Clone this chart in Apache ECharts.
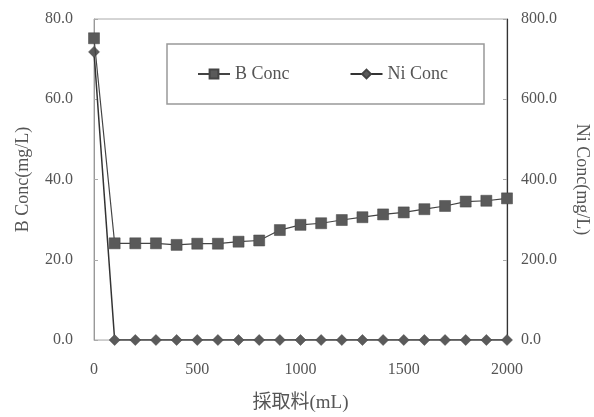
<!DOCTYPE html>
<html>
<head>
<meta charset="utf-8">
<script src="https://cdn.jsdelivr.net/npm/echarts@6/dist/echarts.min.js"></script>
<style>
  html, body { margin: 0; padding: 0; background: #fff; }
  #chart { width: 594px; height: 417px; }
</style>
</head>
<body>
<div id="chart"></div>
<script>
const volumes = [0, 100, 200, 300, 400, 500, 600, 700, 800, 900, 1000,
  1100, 1200, 1300, 1400, 1500, 1600, 1700, 1800, 1900, 2000]
const bConc = [75.2, 24.1, 24.1, 24.1, 23.7, 24.0, 24.0, 24.5, 24.8, 27.4, 28.7,
  29.1, 29.9, 30.6, 31.3, 31.8, 32.6, 33.4, 34.5, 34.7, 35.3]
const niConc = [718, 0, 0, 0, 0, 0, 0, 0, 0, 0, 0,
  0, 0, 0, 0, 0, 0, 0, 0, 0, 0]

const font = "'Liberation Serif', 'Noto Sans CJK JP', serif"
const textColor = '#555'

const chart = echarts.init(document.getElementById('chart'))

chart.setOption({
  backgroundColor: '#fff',
  textStyle: { fontFamily: font, color: textColor },
  grid: {
    left: 94, right: 87, top: 19, bottom: 77,
    outerBoundsMode: 'none',
    containLabel: false,
    show: true, borderColor: '#aaa', borderWidth: 1
  },
  legend: {
    left: 167, top: 44,
    padding: [21, 36, 21, 30],
    itemGap: 60,
    itemWidth: 32,
    itemHeight: 11,
    borderColor: '#999',
    borderWidth: 1.5,
    textStyle: { fontFamily: font, fontSize: 18, color: textColor },
    data: ['B Conc', 'Ni Conc']
  },
  xAxis: {
    type: 'value',
    min: 0, max: 2000, interval: 500,
    name: '採取料(mL)',
    nameLocation: 'middle',
    nameGap: 54,
    nameTextStyle: { fontFamily: font, fontSize: 19, color: textColor },
    axisLine: { show: true, lineStyle: { color: '#ccc' } },
    axisTick: { show: false },
    splitLine: { show: false },
    axisLabel: {
      fontFamily: font, fontSize: 16, color: textColor, margin: 22,
      formatter: v => String(v)
    }
  },
  yAxis: [
    {
      type: 'value',
      min: 0, max: 80, interval: 20,
      name: 'B Conc(mg/L)',
      nameLocation: 'middle',
      nameRotate: 90,
      nameGap: 62,
      nameTextStyle: { fontFamily: font, fontSize: 18, color: textColor },
      axisLine: { show: true, lineStyle: { color: '#999' } },
      axisTick: { show: true, inside: true, length: 4, lineStyle: { color: '#aaa' } },
      splitLine: { show: false },
      axisLabel: {
        fontFamily: font, fontSize: 16, color: textColor, margin: 21,
        formatter: v => v.toFixed(1)
      }
    },
    {
      type: 'value',
      min: 0, max: 800, interval: 200,
      name: 'Ni Conc(mg/L)',
      nameLocation: 'middle',
      nameRotate: -90,
      nameGap: 66,
      nameTextStyle: { fontFamily: font, fontSize: 18, color: textColor },
      axisLine: { show: true, lineStyle: { color: '#333', width: 1.2 } },
      axisTick: { show: true, inside: true, length: 4, lineStyle: { color: '#aaa' } },
      splitLine: { show: false },
      axisLabel: {
        fontFamily: font, fontSize: 16, color: textColor, margin: 14,
        formatter: v => v.toFixed(1)
      }
    }
  ],
  series: [
    {
      name: 'B Conc',
      type: 'line',
      yAxisIndex: 0,
      data: volumes.map((v, i) => [v, bConc[i]]),
      symbol: 'rect',
      symbolSize: 11,
      showAllSymbol: true,
      lineStyle: { color: '#444', width: 1.2 },
      itemStyle: { color: '#5a5a5a', borderColor: '#444', borderWidth: 0.5 },
      z: 3
    },
    {
      name: 'Ni Conc',
      type: 'line',
      yAxisIndex: 1,
      data: volumes.map((v, i) => [v, niConc[i]]),
      symbol: 'diamond',
      symbolSize: 11,
      showAllSymbol: true,
      lineStyle: { color: '#333', width: 1.5 },
      itemStyle: { color: '#5a5a5a', borderColor: '#444', borderWidth: 0.5 },
      z: 2
    }
  ]
})
</script>
</body>
</html>
